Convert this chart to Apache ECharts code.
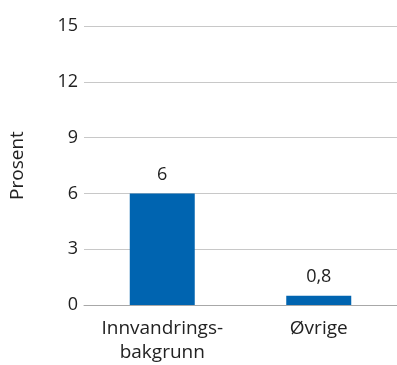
<!DOCTYPE html>
<html><head><meta charset="utf-8">
<script src="https://cdn.jsdelivr.net/npm/echarts@6/dist/echarts.min.js"></script>
<style>html,body{margin:0;padding:0;background:#fff}#c{width:397px;height:365px}</style>
</head><body><div id="c"></div>
<script>
const categories = ["Innvandrings-\nbakgrunn", "Øvrige"];
const values = [6, 0.5];
const valueLabels = ["6", "0,8"];
const yTicks = [0, 3, 6, 9, 12, 15];
const yName = "Prosent";

const font = "'Open Sans', sans-serif";
const chart = echarts.init(document.getElementById('c'), null, {renderer: 'canvas'});
chart.setOption({
  animation: false,
  grid: {left: 81, right: -5, top: 26, bottom: 58},
  xAxis: {
    type: 'category', data: categories,
    axisLine: {show: true, lineStyle: {color: '#a8a8a8', width: 1}},
    axisTick: {show: false},
    axisLabel: {interval: 0, hideOverlap: false, color: '#222', fontSize: 19, fontFamily: font, margin: 12, lineHeight: 24}
  },
  yAxis: {
    type: 'value', min: yTicks[0], max: yTicks[yTicks.length - 1], interval: 3,
    name: yName, nameLocation: 'middle', nameGap: 57, nameRotate: 90,
    nameTextStyle: {color: '#222', fontSize: 19, fontFamily: font},
    axisLine: {show: false}, axisTick: {show: false},
    splitLine: {lineStyle: {color: '#c8c8c8', width: 1}},
    axisLabel: {color: '#222', fontSize: 18, fontFamily: font, margin: 6}
  },
  series: [{
    type: 'bar', data: values, barWidth: 65,
    itemStyle: {color: '#0064b0'},
    label: {show: true, position: 'top', distance: 10, color: '#222', fontSize: 18, fontFamily: font,
      formatter: p => valueLabels[p.dataIndex]}
  }]
});
</script></body></html>
